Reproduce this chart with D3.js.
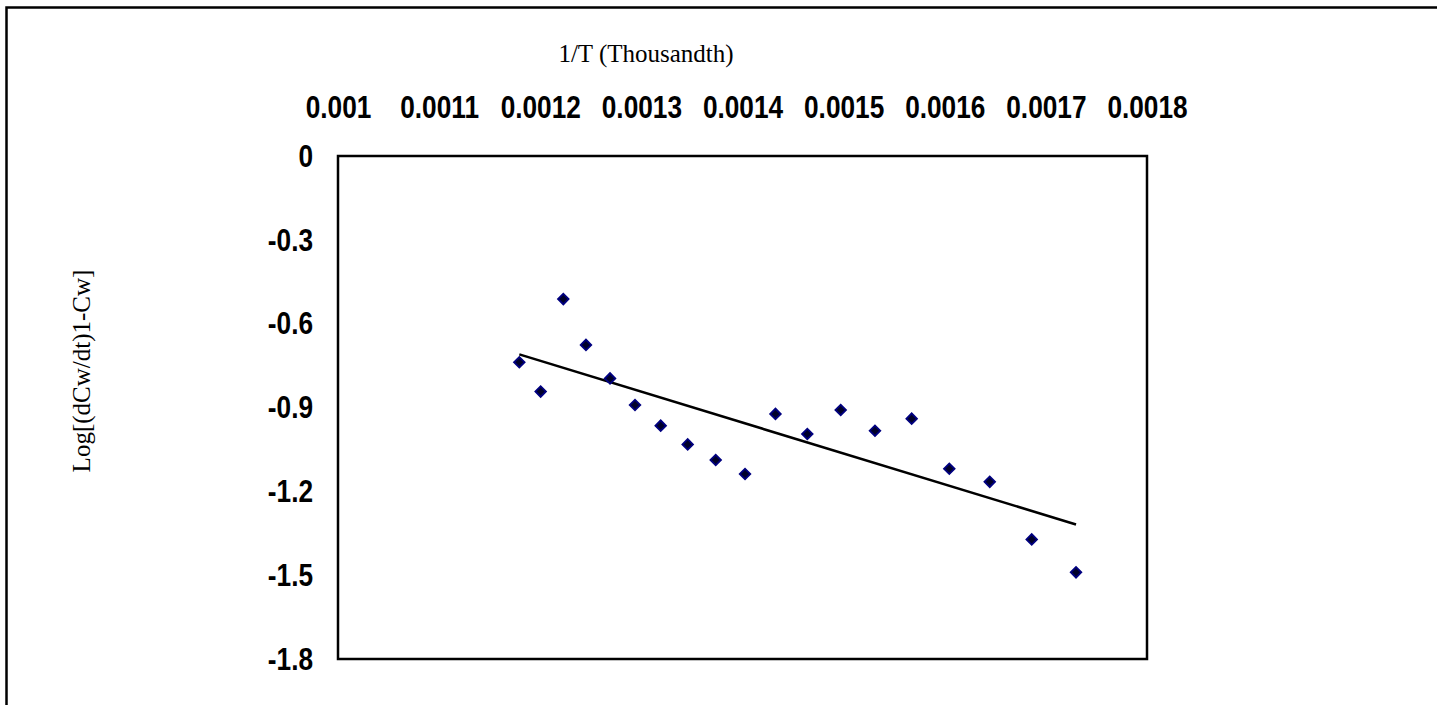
<!DOCTYPE html>
<html>
<head>
<meta charset="utf-8">
<script src="https://cdn.jsdelivr.net/npm/d3@7"></script>
<style>
    body { margin: 0; background: #fff; }
    .tick-label { font-family: "Liberation Sans Narrow", "Arial Narrow", "Liberation Sans", Arial, sans-serif; font-weight: bold; }
    .title { font-family: "Liberation Serif", "Times New Roman", serif; }
</style>
</head>
<body>
<div id="chart-div"></div>
<script>
// 1/T values of the points
const invT = [0.0011793, 0.0012004, 0.0012228, 0.0012452, 0.001269, 0.0012937, 0.0013191,
    0.0013458, 0.0013735, 0.0014025, 0.0014326, 0.0014641, 0.0014971, 0.001531,
    0.0015673, 0.0016045, 0.0016445, 0.001686, 0.0017298];

// log values of the points
const logRate = [-0.738, -0.843, -0.512, -0.676, -0.796, -0.891, -0.965,
    -1.032, -1.088, -1.138, -0.923, -0.995, -0.909, -0.983,
    -0.940, -1.119, -1.166, -1.372, -1.490];

// tick labels
const xTicks = [0.001, 0.0011, 0.0012, 0.0013, 0.0014, 0.0015, 0.0016, 0.0017, 0.0018];
const yTicks = [0, -0.3, -0.6, -0.9, -1.2, -1.5, -1.8];

class Scatter {
    constructor() {
        this.margin = { top: 156, left: 338 }
        this.width = 809;
        this.height = 503;
        // narrow bold look for tick labels
        this.squeeze = 0.82;

        this.svg = d3.select("#chart-div")
            .append("svg")
            .attr("width", 1437)
            .attr("height", 705);

        // outer border, only top and left edges show in the window
        this.svg.append("rect")
            .attr("x", 6.5)
            .attr("y", 7.5)
            .attr("width", 1600)
            .attr("height", 900)
            .attr("fill", "none")
            .attr("stroke", "black")
            .attr("stroke-width", 2.5);

        this.g = this.svg.append("g")
            .attr("transform", "translate(" + this.margin.left + "," + this.margin.top + ")");

        // scales
        this.x = d3.scaleLinear().domain([0.001, 0.0018]).range([0, this.width]);
        this.y = d3.scaleLinear().domain([0, -1.8]).range([0, this.height]);

        this.drawAxis();
        this.drawTrend();
        this.drawPoints();
    }

    // top axis, left axis and plot frame
    drawAxis() {
        this.g.append("rect")
            .attr("width", this.width)
            .attr("height", this.height)
            .attr("fill", "none")
            .attr("stroke", "black")
            .attr("stroke-width", 2.5);

        this.g.append("g")
            .call(d3.axisTop(this.x).tickValues(xTicks).tickSize(0).tickPadding(38).tickFormat(d => String(+d.toFixed(4))))
            .call(g => g.select(".domain").remove())
            .selectAll("text")
            .attr("class", "tick-label")
            .attr("font-size", "32px")
            .attr("fill", "black")
            .attr("transform", "scale(" + this.squeeze + ",1)");

        this.g.append("g")
            .call(d3.axisLeft(this.y).tickValues(yTicks).tickSize(0).tickPadding(25 / this.squeeze).tickFormat(d => String(+d.toFixed(1))))
            .call(g => g.select(".domain").remove())
            .selectAll("text")
            .attr("class", "tick-label")
            .attr("font-size", "32px")
            .attr("fill", "black")
            .attr("transform", "scale(" + this.squeeze + ",1)");

        // axis titles
        this.svg.append("text")
            .attr("class", "title")
            .attr("text-anchor", "middle")
            .attr("x", 646)
            .attr("y", 62)
            .style("font-size", "25px")
            .text("1/T (Thousandth)");

        this.svg.append("text")
            .attr("class", "title")
            .attr("text-anchor", "middle")
            .attr("transform", "translate(90,371) rotate(-90)")
            .style("font-size", "25px")
            .text("Log[(dCw/dt)1-Cw]");
    }

    // least squares trend line over the points
    drawTrend() {
        let mx = d3.mean(invT), my = d3.mean(logRate);
        let sxy = d3.sum(invT, (v, i) => (v - mx) * (logRate[i] - my));
        let sxx = d3.sum(invT, v => (v - mx) ** 2);
        let slope = sxy / sxx;
        let ends = d3.extent(invT).map(v => [v, my + slope * (v - mx)]);

        this.g.append("path")
            .datum(ends)
            .attr("fill", "none")
            .attr("stroke", "black")
            .attr("stroke-width", 2.6)
            .attr("d", d3.line().x(d => this.x(d[0])).y(d => this.y(d[1])));
    }

    // diamond markers
    drawPoints() {
        let diamond = d3.symbol().type(d3.symbolSquare).size(56);
        this.g.append("g")
            .selectAll("path")
            .data(invT.map((v, i) => [v, logRate[i]]))
            .join("path")
            .attr("d", diamond)
            .attr("transform", d => "translate(" + this.x(d[0]) + "," + this.y(d[1]) + ") rotate(45)")
            .attr("fill", "#00002a")
            .attr("stroke", "#000080")
            .attr("stroke-width", 1.8);
    }
}

new Scatter();
</script>
</body>
</html>
